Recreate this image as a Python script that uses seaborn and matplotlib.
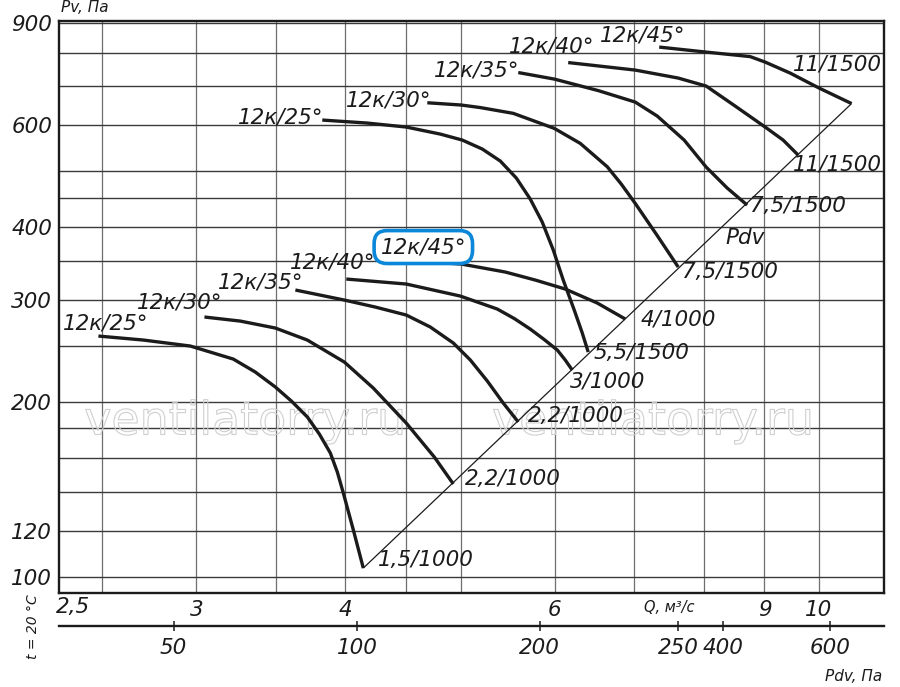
import numpy as np
import pandas as pd
import matplotlib
matplotlib.use("Agg")
import matplotlib.pyplot as plt
import matplotlib.patheffects as pe
from matplotlib.ticker import NullFormatter, NullLocator
import seaborn as sns

# --- data (Q in m3/s, Pv in Pa) ---
# lower group, n = 1000
q_l25 = [2.482, 2.708, 2.965, 3.222, 3.362, 3.495, 3.605, 3.718, 3.805, 3.887, 3.940, 3.986, 4.064, 4.143]
pv_l25 = [259.8, 255.7, 249.7, 237.1, 225.2, 212.2, 200.7, 188.4, 176.1, 163.3, 151.4, 139.3, 120.3, 103.4]
q_l30 = [3.047, 3.266, 3.495, 3.718, 3.994, 4.224, 4.502, 4.753, 4.931]
pv_l30 = [280.2, 275.7, 268.2, 255.7, 234.3, 211.3, 183.9, 160.7, 144.4]
q_l35 = [3.633, 3.994, 4.240, 4.502, 4.716, 4.931, 5.096, 5.266, 5.431, 5.591]
pv_l35 = [311.9, 299.7, 291.5, 282.4, 269.3, 252.7, 236.2, 217.3, 199.1, 184.7]
q_l40 = [4.009, 4.502, 4.998, 5.369, 5.548, 5.722, 5.879, 6.029, 6.123, 6.206]
pv_l40 = [325.8, 319.4, 304.5, 289.2, 278.5, 267.1, 256.2, 245.8, 236.2, 227.0]
q_l45 = [4.865, 5.008, 5.452, 5.778, 6.123, 6.514, 6.876]
pv_l45 = [347.1, 345.8, 335.0, 324.5, 313.1, 296.2, 278.0]

# upper group, n = 1500
q_u25 = [3.827, 4.175, 4.502, 4.808, 5.017, 5.215, 5.400, 5.570, 5.722, 5.856, 5.983, 6.099, 6.230, 6.328, 6.401]
pv_u25 = [612.5, 605.2, 595.7, 579.3, 565.7, 545.9, 520.5, 486.5, 447.6, 408.6, 365.5, 324.5, 288.1, 262.9, 243.8]
q_u30 = [4.689, 5.008, 5.195, 5.537, 5.994, 6.303, 6.641, 6.823, 7.010, 7.315, 7.618]
pv_u30 = [656.0, 650.1, 643.6, 629.0, 592.6, 558.3, 508.8, 475.1, 440.0, 387.2, 341.7]
q_u35 = [5.591, 5.994, 6.526, 7.010, 7.315, 7.706, 8.041, 8.375, 8.705]
pv_u35 = [739.6, 720.7, 688.5, 657.8, 622.3, 565.7, 508.2, 467.6, 437.0]
q_u40 = [6.158, 7.010, 7.618, 8.041, 8.505, 9.013, 9.332, 9.607]
pv_u40 = [769.5, 746.9, 723.6, 701.0, 647.5, 595.7, 565.7, 533.0]
q_u45 = [7.343, 8.041, 8.755, 9.013, 9.459, 10.005, 10.653]
pv_u45 = [818.3, 802.2, 788.0, 771.0, 738.1, 695.4, 653.9]

# dynamic pressure line
q_pdv = [4.143, 10.653]
pv_pdv = [103.4, 653.9]

blade_names = ["12к/25°", "12к/30°", "12к/35°", "12к/40°", "12к/45°"]
motors_lower = ["1,5/1000", "2,2/1000", "2,2/1000", "3/1000", "4/1000"]
motors_upper = ["5,5/1500", "7,5/1500", "7,5/1500", "11/1500", "11/1500"]

name_pos_lower = [(2.516, 273.6), (2.903, 297.4), (3.395, 321.9), (3.902, 348.5), (4.653, 369.9)]
name_pos_upper = [(3.529, 619.8), (4.348, 663.1), (5.155, 746.9), (5.959, 821.6), (7.119, 858.3)]
motor_pos_lower = [(4.265, 106.8), (5.046, 147.3), (5.700, 188.9), (6.182, 217.3), (7.078, 278.0)]
motor_pos_upper = [(6.463, 242.9), (7.677, 335.0), (8.755, 435.3), (9.514, 514.3), (9.514, 764.9)]

q_grid = [2.5, 3, 3.5, 4, 4.5, 5, 6, 7, 8, 9, 10]
pv_grid = [100, 120, 140, 160, 180, 200, 250, 300, 350, 400, 450, 500, 600, 700, 800, 900]
q_ticks = [3, 4, 6, 9, 10]
q_ticklabels = ["3", "4", "6", "9", "10"]
pv_ticks = [100, 120, 200, 300, 400, 600, 900]
pdv_labels = ["50", "100", "200", "250", "400", "600"]
pdv_tick_q = [2.871, 4.093, 5.826, 7.622, 8.306, 10.226]

curves = {
    "L25": (q_l25, pv_l25), "L30": (q_l30, pv_l30), "L35": (q_l35, pv_l35),
    "L40": (q_l40, pv_l40), "L45": (q_l45, pv_l45),
    "U25": (q_u25, pv_u25), "U30": (q_u30, pv_u30), "U35": (q_u35, pv_u35),
    "U40": (q_u40, pv_u40), "U45": (q_u45, pv_u45),
}
rows = []
for name, (qs, ps) in curves.items():
    for i, (q, p) in enumerate(zip(qs, ps)):
        rows.append((name, i, q, p))
df = pd.DataFrame(rows, columns=["curve", "order", "Q", "Pv"])
df_pdv = pd.DataFrame({"Q": q_pdv, "Pv": pv_pdv})

sns.set_style("white")
plt.rcParams["font.family"] = ["DejaVu Sans"]
plt.rcParams["font.style"] = "italic"

ink = "#1b1b1b"
fs = 15.5

fig = plt.figure(figsize=(9, 6.87), dpi=100)
ax = fig.add_axes([0.0656, 0.1368, 0.9170, 0.8330])
ax.set_xscale("log")
ax.set_yscale("log")

sns.lineplot(data=df, x="Q", y="Pv", units="curve", estimator=None, sort=False,
             color=ink, linewidth=2.4, ax=ax, zorder=3)
sns.lineplot(data=df_pdv, x="Q", y="Pv", estimator=None, sort=False,
             color=ink, linewidth=0.9, ax=ax, zorder=3)
for ln in ax.lines:
    ln.set_solid_joinstyle("round")
    ln.set_solid_capstyle("butt")

ax.set_xlim(2.30, 11.35)
ax.set_ylim(93.66, 908.5)
ax.set_xlabel("")
ax.set_ylabel("")

ax.set_xticks(q_grid, minor=True)
ax.set_xticks(q_ticks)
ax.set_xticklabels(q_ticklabels)
ax.set_yticks(pv_grid, minor=True)
ax.set_yticks(pv_ticks)
ax.set_yticklabels([str(v) for v in pv_ticks])
ax.xaxis.set_minor_formatter(NullFormatter())
ax.yaxis.set_minor_formatter(NullFormatter())
ax.tick_params(which="both", length=0, labelsize=fs, colors=ink)
ax.tick_params(axis="x", pad=5)
ax.tick_params(axis="y", pad=5)
ax.set_axisbelow(True)
ax.xaxis.grid(True, which="both", color="#6e6e6e", linewidth=0.9)
ax.yaxis.grid(True, which="both", color="#3a3a3a", linewidth=1.0)
for s in ax.spines.values():
    s.set_linewidth(1.7)
    s.set_color(ink)

ax.annotate("2,5", xy=(2.5, 0), xycoords=("data", "axes fraction"),
            xytext=(-29, -14), textcoords="offset pixels",
            ha="center", va="center", fontsize=fs, color=ink)

# blade-angle labels
for txt, (q, p) in zip(blade_names, name_pos_upper):
    ax.text(q, p, txt, ha="center", va="center", fontsize=fs, color=ink, zorder=4)
for i, (txt, (q, p)) in enumerate(zip(blade_names, name_pos_lower)):
    kw = {}
    if i == 4:
        kw["bbox"] = dict(boxstyle="round,pad=0.3,rounding_size=0.6",
                          fc="white", ec="#0a87d8", lw=2.6)
    ax.text(q, p, txt, ha="center", va="center", fontsize=fs, color=ink, zorder=4, **kw)

# motor labels
for txt, (q, p) in zip(motors_lower + motors_upper, motor_pos_lower + motor_pos_upper):
    ax.text(q, p, txt, ha="left", va="center", fontsize=fs, color=ink, zorder=4)
ax.text(8.671, 383.4, "Pdv", ha="center", va="center", fontsize=fs, color=ink, zorder=4)

# watermark
for q in [3.298, 7.258]:
    ax.text(q, 184.7, "ventilatorry.ru", ha="center", va="center", fontsize=33,
            fontstyle="normal", color=(1, 1, 1, 0), zorder=2,
            path_effects=[pe.Stroke(linewidth=0.8, foreground="#cfcfcf")])

# dynamic pressure scale under the Q axis
ax2 = ax.twiny()
ax2.set_xscale("log")
ax2.set_xlim(ax.get_xlim())
ax2.xaxis.set_ticks_position("bottom")
ax2.xaxis.set_label_position("bottom")
ax2.spines["bottom"].set_position(("outward", 23.8))
ax2.spines["bottom"].set_visible(True)
ax2.spines["bottom"].set_linewidth(1.7)
ax2.spines["bottom"].set_color(ink)
for s in ["top", "left", "right"]:
    ax2.spines[s].set_visible(False)
ax2.set_xticks(pdv_tick_q)
ax2.set_xticklabels(pdv_labels)
ax2.xaxis.set_minor_locator(NullLocator())
ax2.tick_params(axis="x", direction="inout", length=7, width=1.1, pad=5,
                labelsize=fs, colors=ink)

fig.text(0.0944, 0.9884, "Pv, Па", ha="center", va="center", fontsize=11, color=ink)
fig.text(0.7433, 0.115, "Q, м³/с", ha="center", va="center", fontsize=10.5, color=ink)
fig.text(0.9489, 0.016, "Pdv, Па", ha="center", va="center", fontsize=11, color=ink)
fig.text(0.0367, 0.0873, "t = 20 °C", ha="center", va="center", fontsize=10,
         rotation=90, color=ink)

fig.savefig("out.png", dpi=100)
